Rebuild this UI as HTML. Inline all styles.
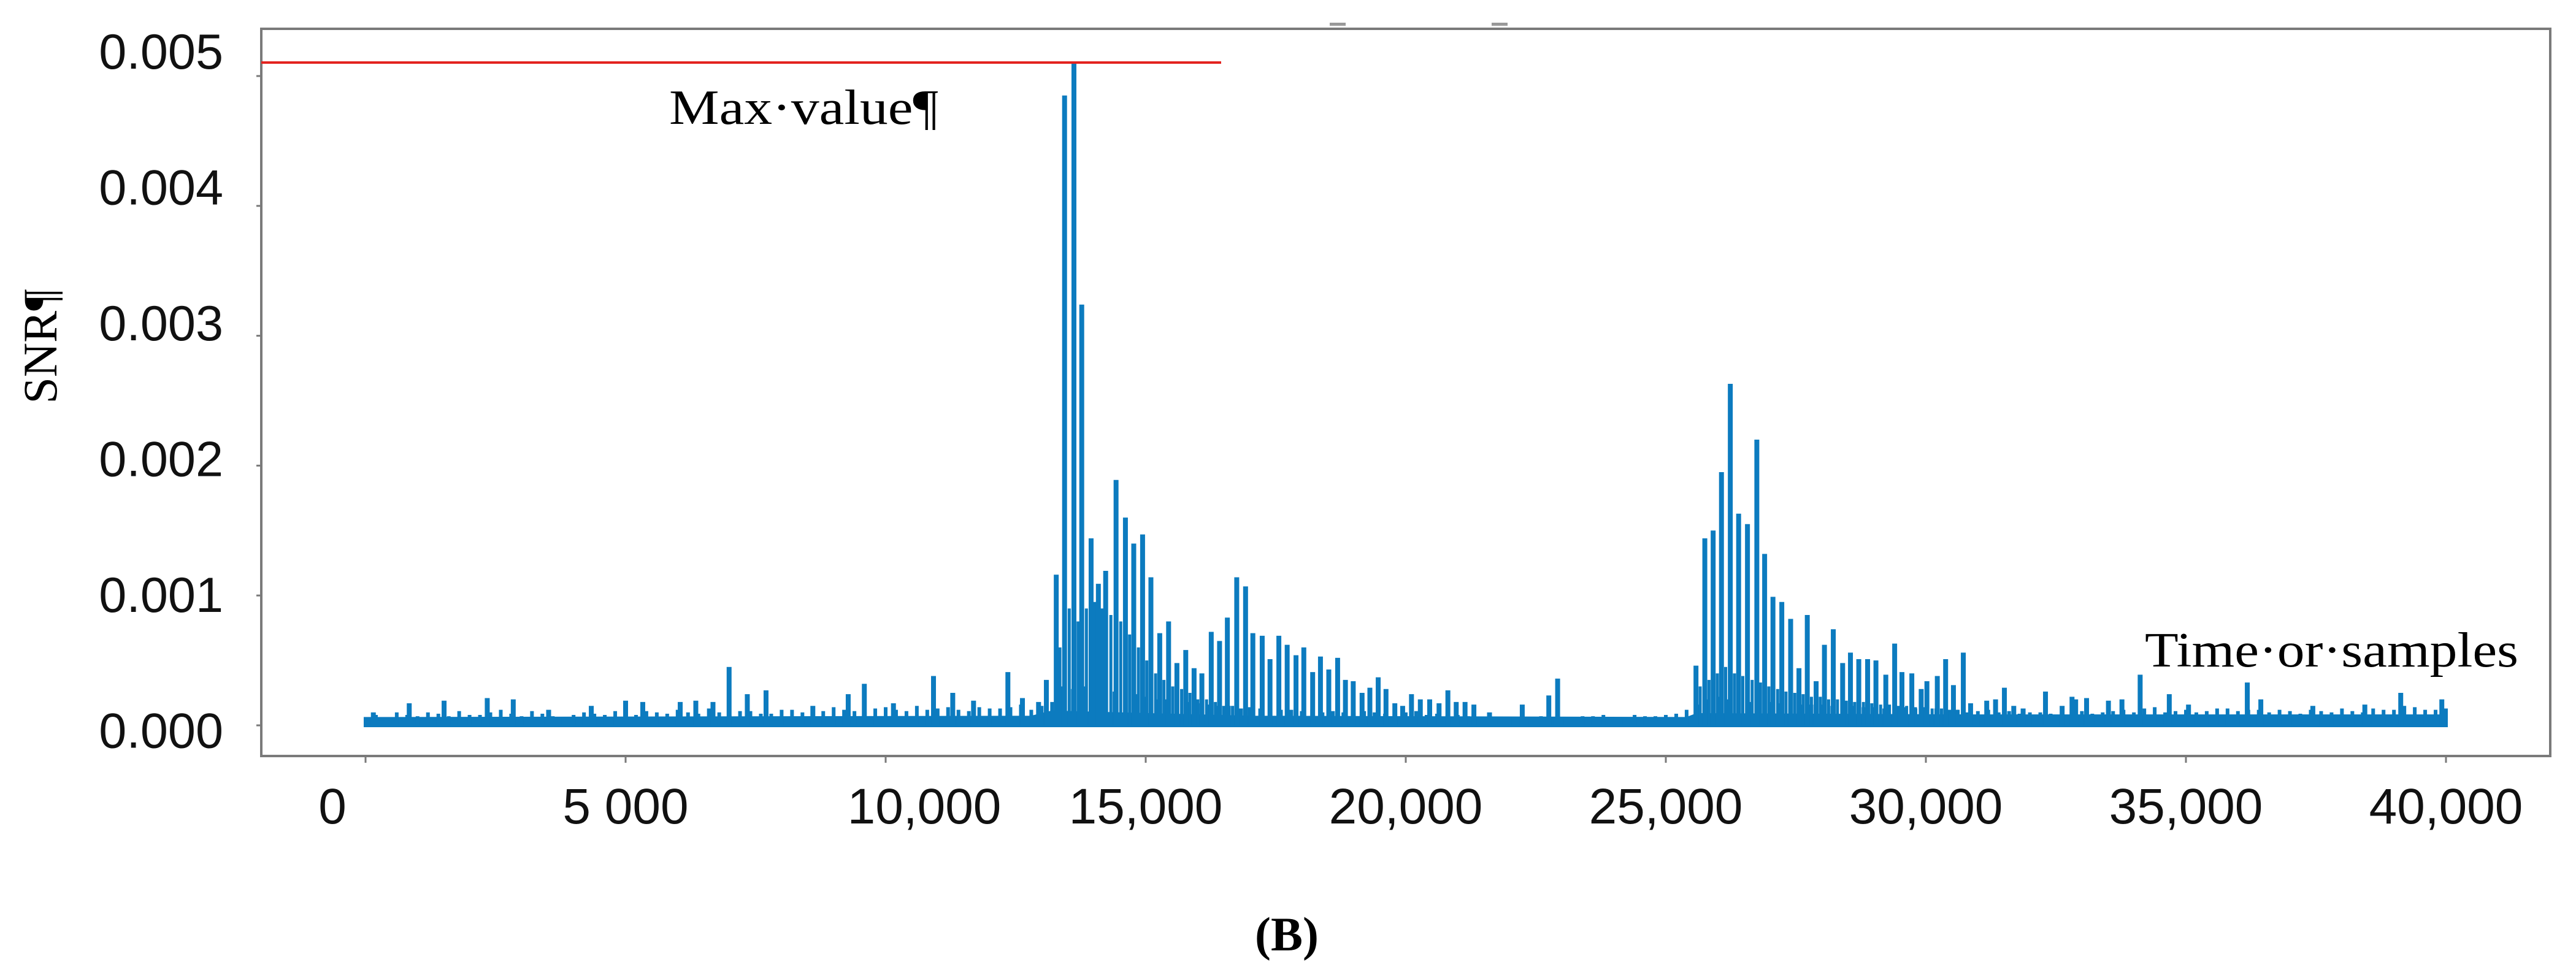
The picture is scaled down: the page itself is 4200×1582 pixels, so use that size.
<!DOCTYPE html>
<html><head><meta charset="utf-8"><style>
html,body{margin:0;padding:0;background:#fff;}
svg{display:block;}
</style></head><body>
<svg id="chart" width="4200" height="1582" viewBox="0 0 4200 1582" xmlns="http://www.w3.org/2000/svg">
<rect x="0" y="0" width="4200" height="1582" fill="#fff"/>
<rect x="2168" y="37" width="26" height="5" fill="#999"/>
<rect x="2432" y="37" width="26" height="5" fill="#999"/>
<g id="series"></g>
<rect x="426" y="47" width="3732" height="1186" fill="none" stroke="#7a7a7a" stroke-width="4"/>
<line x1="426" y1="102" x2="1991" y2="102" stroke="#e3231f" stroke-width="4"/>
<g id="yaxis"></g>
<g id="xaxis"></g>
<text x="1091" y="202" font-family="Liberation Serif, serif" font-size="80" textLength="439" lengthAdjust="spacingAndGlyphs" fill="#000">Max·value¶</text>
<text x="3497" y="1087" font-family="Liberation Serif, serif" font-size="80" textLength="609" lengthAdjust="spacingAndGlyphs" fill="#000">Time·or·samples</text>
<text transform="translate(92,565) rotate(-90)" text-anchor="middle" font-family="Liberation Serif, serif" font-size="78" fill="#000">SNR¶</text>
<text x="2098" y="1550" text-anchor="middle" font-family="Liberation Serif, serif" font-weight="bold" font-size="78" fill="#000">(B)</text>
</svg>
<script>
const peakX = [150,840,1510,2340,2840,3520,4340,5000,5330,6050,6350,6680,6990,7340,7700,8600,9280,9590,10150,10920,11290,11690,12350,12630,12940,13090,13280,13440,13620,13770,13950,14090,14230,14430,14610,14770,14940,15100,15270,15440,15600,15770,15930,16080,16260,16420,16570,16750,16920,17060,17240,17390,17560,17720,17890,18040,18210,18360,18520,18690,18840,18990,19160,19310,19470,19620,19790,19940,20110,20280,20460,20640,20810,20970,21140,21310,21610,22240,22750,22920,25580,25750,25910,26070,26240,26400,26570,26750,26900,27060,27230,27400,27560,27720,27890,28050,28220,28400,28550,28710,28880,29040,29230,29400,29540,29730,29910,30020,30220,30380,30530,30720,30860,31170,31340,31510,31690,31870,32300,32620,32810,32880,33090,33510,33770,34120,34680,35050,36180,36440,37440,38440,39130,39920];
const peakV = [0.0001,0.00017,0.00019,0.00021,0.0002,0.00012,0.00015,0.00019,0.00018,0.00018,0.00019,0.00018,0.00045,0.00024,0.00027,0.00015,0.00024,0.00032,0.00017,0.00038,0.00025,0.00019,0.00041,0.00021,0.00018,0.00035,0.00116,0.00485,0.0051,0.00324,0.00144,0.00109,0.00119,0.00189,0.0016,0.0014,0.00147,0.00114,0.00071,0.0008,0.00048,0.00058,0.00044,0.0004,0.00072,0.00065,0.00083,0.00114,0.00107,0.00071,0.00069,0.00051,0.00069,0.00062,0.00054,0.0006,0.00041,0.00053,0.00043,0.00052,0.00035,0.00034,0.00025,0.00029,0.00037,0.00028,0.00017,0.00015,0.00024,0.0002,0.0002,0.00017,0.00027,0.00018,0.00018,0.00016,0.0001,0.00016,0.00023,0.00036,0.00046,0.00144,0.0015,0.00195,0.00263,0.00163,0.00155,0.0022,0.00132,0.00099,0.00095,0.00082,0.00044,0.00085,0.00034,0.00062,0.00074,0.00048,0.00056,0.00051,0.00051,0.0005,0.00039,0.00063,0.00041,0.0004,0.00028,0.00034,0.00038,0.00051,0.00031,0.00056,0.00017,0.00019,0.0002,0.00029,0.00015,0.00013,0.00026,0.00015,0.00022,0.0002,0.00021,0.00019,0.0002,0.00039,0.00024,0.00016,0.00033,0.0002,0.00015,0.00016,0.00025,0.0002];
const subX = [13350,13530,13700,13860,14020,14160,14330,14520,14690,14860,15020,15190,15350,15520,15690,15850,16000,16170,16340,16500,16670,16840,17000,25660,25830,25990,26150,26320,26480,26660,26820,26980,27150,27310,27480,27640,27800,27970,28130,28300,28470,28630,28800,28960,29130,29300,29470,29630,29800,29960,30120,30300,30460,30620];
const subV = [0.0006,0.0009,0.0008,0.0009,0.00095,0.0009,0.00085,0.0008,0.0007,0.0006,0.0005,0.0004,0.00035,0.0003,0.00028,0.00025,0.0002,0.0002,0.00018,0.00015,0.00015,0.00013,0.00012,0.0003,0.00035,0.0004,0.00045,0.0004,0.00038,0.00035,0.00033,0.0003,0.00028,0.00026,0.00025,0.00024,0.00022,0.00022,0.0002,0.0002,0.00019,0.00018,0.00018,0.00017,0.00016,0.00016,0.00015,0.00015,0.00014,0.00014,0.00013,0.00013,0.00012,0.00012];
const noiseStart = 200;
const noiseStep = 400;
const noiseV = [0.00008,0.0001,0.00007,0.00009,0.00011,0.00008,0.00012,0.00007,0.00009,0.00006,0.0001,0.00008,0.00012,0.00011,0.00009,0.0001,0.00013,0.00008,0.00011,0.00009,0.00012,0.0001,0.00014,0.00011,0.00013,0.00012,0.00015,0.00013,0.00012,0.00014,0.00013,0.00016,0.00015,0.0003,0.0003,0.00028,0.00025,0.00022,0.0002,0.00018,0.00016,0.00015,0.00014,0.00013,0.00012,0.00012,0.00011,0.0001,0.0001,0.00009,0.00011,0.00009,0.00008,0.00006,0.00005,0.00006,0.00007,0.00005,0.00007,0.00008,0.00006,0.00007,0.00008,0.00012,0.0002,0.0002,0.00018,0.00018,0.00017,0.00016,0.00015,0.00015,0.00014,0.00014,0.00013,0.00013,0.00012,0.00011,0.0001,0.00009,0.0001,0.00008,0.00011,0.0001,0.00012,0.00013,0.0001,0.00012,0.00011,0.00013,0.00012,0.0001,0.00011,0.00012,0.0001,0.00011,0.00013,0.00012,0.00014,0.00012];
const noise2Start = 400;
const noise2V = [0.00006,0.00008,0.0001,0.00007,0.00008,0.0001,0.00009,0.00011,0.00007,0.00008,0.00009,0.00011,0.00008,0.0001,0.00012,0.00009,0.0001,0.00011,0.00009,0.00012,0.0001,0.00011,0.00012,0.0001,0.00014,0.00011,0.00012,0.00014,0.00011,0.00013,0.00014,0.00012,0.00018,0.00028,0.00032,0.00026,0.00024,0.0002,0.00019,0.00017,0.00015,0.00013,0.00013,0.00012,0.00011,0.0001,0.0001,0.00011,0.00009,0.0001,0.00008,0.00008,0.00007,0.00005,0.00006,0.00005,0.00006,0.00006,0.00007,0.00006,0.00008,0.00007,0.00009,0.00016,0.00022,0.00019,0.00019,0.00017,0.00016,0.00016,0.00015,0.00014,0.00013,0.00014,0.00012,0.00012,0.0001,0.00012,0.00011,0.0001,0.00009,0.00012,0.00009,0.00011,0.0001,0.00014,0.00011,0.0001,0.00013,0.00011,0.00012,0.00012,0.00009,0.00011,0.00013,0.0001,0.00012,0.00015,0.00012,0.00013];
const floorX = [0,12800,13200,17000,25400,25600,31000,40000];
const floorV = [0.00005,0.00006,0.0001,0.00006,0.00005,0.00008,0.00007,0.00007];
const yTicks = [0,0.001,0.002,0.003,0.004,0.005];
const yTickLabels = ["0.000","0.001","0.002","0.003","0.004","0.005"];
const xTicks = [0,5000,10000,15000,20000,25000,30000,35000,40000];
const xTickLabels = ["0","5 000","10,000","15,000","20,000","25,000","30,000","35,000","40,000"];

const NS = "http://www.w3.org/2000/svg";
function xs(s){ return 596 + s * 0.0848; }
function ys(v){ return 1183 - v / 0.001 * 211.8; }
function yLabelBase(v){ return 112 + (0.005 - v) / 0.001 * 221.5; }
const COLOR = "#0c7bbf";
const series = document.getElementById("series");

let fd = "M" + xs(floorX[0]) + "," + ys(0);
for (let i = 0; i < floorX.length; i++) fd += " L" + xs(floorX[i]) + "," + ys(floorV[i]);
fd += " L" + xs(floorX[floorX.length-1]) + "," + ys(0) + " Z";
const floorPath = document.createElementNS(NS, "path");
floorPath.setAttribute("d", fd);
floorPath.setAttribute("fill", COLOR);
floorPath.setAttribute("stroke", COLOR);
floorPath.setAttribute("stroke-width", "6");


series.appendChild(floorPath);

function spikes(xArr, vArr, w, name){
  let d = "";
  for (let i = 0; i < xArr.length; i++) {
    const x = xs(xArr[i]);
    d += "M" + x + "," + ys(0) + " L" + x + "," + ys(vArr[i]) + " ";
  }
  const p = document.createElementNS(NS, "path");
  p.setAttribute("d", d);
  p.setAttribute("stroke", COLOR);
  p.setAttribute("stroke-width", w);
  p.setAttribute("fill", "none");
  
  
  series.appendChild(p);
}
const noiseX = noiseV.map((v, i) => noiseStart + i * noiseStep);
const noise2X = noise2V.map((v, i) => noise2Start + i * noiseStep);
spikes(noiseX, noiseV, 6, "noise-spikes");
spikes(noise2X, noise2V, 6, "noise-spikes-2");
spikes(subX, subV, 5, "secondary-spikes");
spikes(peakX, peakV, 8, "main-spikes");

const yaxis = document.getElementById("yaxis");
yTicks.forEach((v, i) => {
  const t = document.createElementNS(NS, "line");
  t.setAttribute("x1", 418); t.setAttribute("x2", 428);
  t.setAttribute("y1", ys(v)); t.setAttribute("y2", ys(v));
  t.setAttribute("stroke", "#7a7a7a"); t.setAttribute("stroke-width", "3");
  
  
  yaxis.appendChild(t);
  const l = document.createElementNS(NS, "text");
  l.setAttribute("x", 364); l.setAttribute("y", yLabelBase(v));
  l.setAttribute("text-anchor", "end");
  l.setAttribute("font-family", "Liberation Sans, sans-serif");
  l.setAttribute("font-size", "81");
  l.setAttribute("fill", "#111");
  l.textContent = yTickLabels[i];
  
  
  yaxis.appendChild(l);
});
const xaxis = document.getElementById("xaxis");
const labelShift = {"0": -54, "10,000": 63};
xTicks.forEach((v, i) => {
  const t = document.createElementNS(NS, "line");
  t.setAttribute("x1", xs(v)); t.setAttribute("x2", xs(v));
  t.setAttribute("y1", 1233); t.setAttribute("y2", 1244);
  t.setAttribute("stroke", "#7a7a7a"); t.setAttribute("stroke-width", "3");
  
  
  xaxis.appendChild(t);
  const l = document.createElementNS(NS, "text");
  l.setAttribute("x", xs(v) + (labelShift[xTickLabels[i]] || 0)); l.setAttribute("y", 1343);
  l.setAttribute("text-anchor", "middle");
  l.setAttribute("font-family", "Liberation Sans, sans-serif");
  l.setAttribute("font-size", "82");
  l.setAttribute("fill", "#111");
  l.textContent = xTickLabels[i];
  
  
  xaxis.appendChild(l);
});
</script>
</body></html>
